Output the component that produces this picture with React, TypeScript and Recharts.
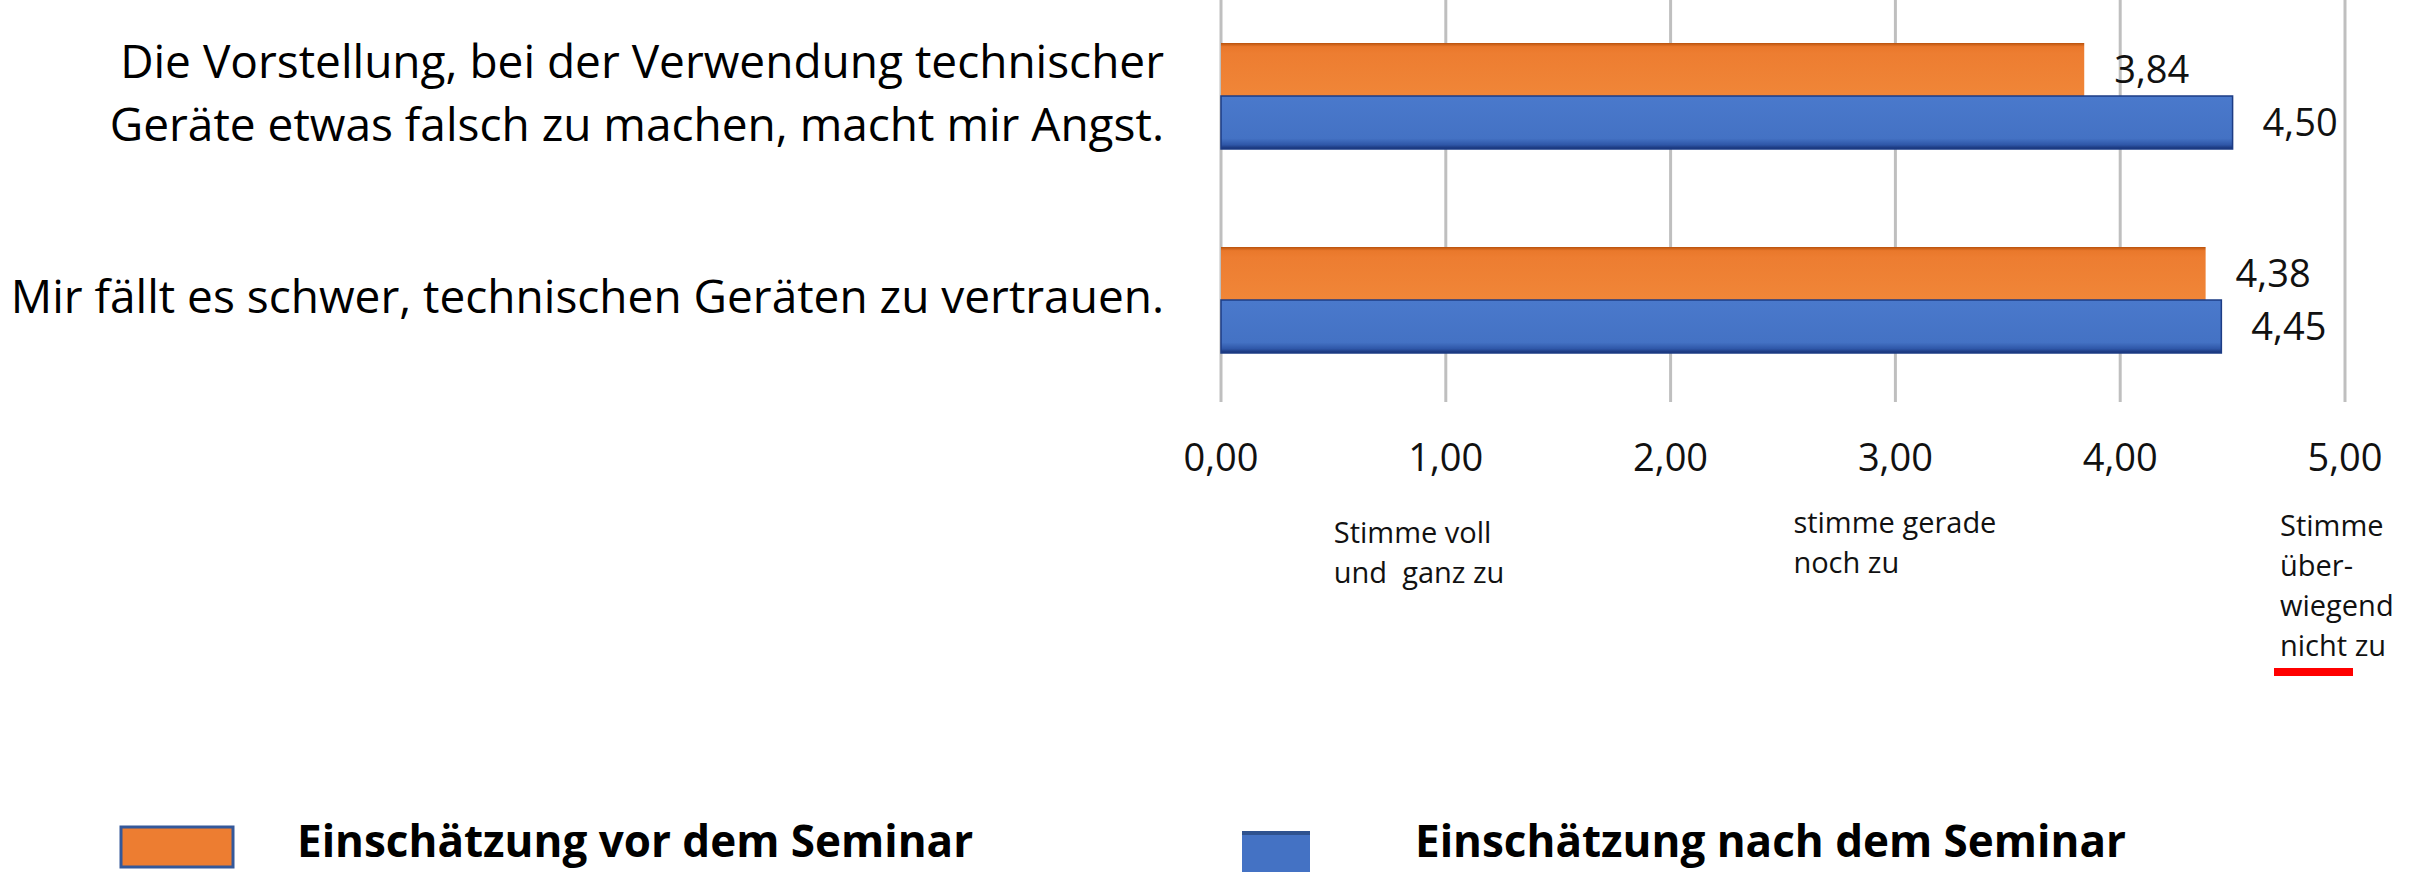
import React from 'react';
import { BarChart, Bar, XAxis, YAxis, CartesianGrid, LabelList } from 'recharts';

const categories = [
  'Die Vorstellung, bei der Verwendung technischer\nGeräte etwas falsch zu machen, macht mir Angst.',
  'Mir fällt es schwer, technischen Geräten zu vertrauen.',
];
const vorSeminar = [3.84, 4.38];
const nachSeminar = [4.5, 4.45];
const xTicks = [0, 1, 2, 3, 4, 5];
const scaleNotes: Record<number, string[]> = {
  1: ['Stimme voll', 'und  ganz zu'],
  3: ['stimme gerade', 'noch zu'],
  5: ['Stimme', 'über-', 'wiegend', 'nicht zu'],
};
const seriesNames = ['Einschätzung vor dem Seminar', 'Einschätzung nach dem Seminar'];

const data = categories.map((name, i) => ({
  name,
  vor: vorSeminar[i],
  nach: nachSeminar[i],
}));

const FONT = "'Open Sans', sans-serif";
const ORANGE = '#ED7D31';
const BLUE = '#4472C4';

const fmt = (v: number) => Number(v).toFixed(2).replace('.', ',');

// where the small scale notes sit, relative to their tick
const noteLayout: Record<number, { dx: number; first: number }> = {
  1: { dx: -112, first: 141 },
  3: { dx: -102, first: 131 },
  5: { dx: -65, first: 134 },
};

const CategoryTick = ({ x, y, payload }: any) => {
  const lines = String(payload.value).split('\n');
  const lh = 63;
  const start = y - 3 - ((lines.length - 1) * lh) / 2;
  return (
    <text textAnchor="end" fontSize={46} fontFamily={FONT} fill="#000">
      {lines.map((l, i) => (
        <tspan key={i} x={x - 57} y={start + i * lh + 16}>
          {l}
        </tspan>
      ))}
    </text>
  );
};

const ValueTick = ({ x, y, payload }: any) => {
  const v = payload.value as number;
  const notes = scaleNotes[v];
  const lay = noteLayout[v];
  return (
    <g>
      <text x={x} y={y + 69} textAnchor="middle" fontSize={38} fontFamily={FONT} fill="#111">
        {fmt(v)}
      </text>
      {notes && (
        <text fontSize={29} fontFamily={FONT} fill="#111" style={{ whiteSpace: 'pre' }}>
          {notes.map((l, i) => (
            <tspan key={i} x={x + lay.dx} y={y + lay.first + i * 40}>
              {l}
            </tspan>
          ))}
        </text>
      )}
      {v === 5 && <rect x={x - 71} y={y + 266} width={79} height={8} fill="#FF0000" />}
    </g>
  );
};

const LegendRow = () => (
  <svg width={2418} height={872} style={{ position: 'absolute', left: 0, top: 0, pointerEvents: 'none' }}>
    <rect x={121} y={827} width={112} height={40} fill={ORANGE} stroke="#34589A" strokeWidth={3} />
    <text x={297} y={857} fontSize={44} fontWeight={700} fontFamily={FONT} fill="#000">
      {seriesNames[0]}
    </text>
    <rect x={1242} y={831} width={68} height={42} fill={BLUE} />
    <rect x={1242} y={831} width={68} height={4} fill="#2F528F" />
    <text x={1415} y={857} fontSize={44} fontWeight={700} fontFamily={FONT} fill="#000">
      {seriesNames[1]}
    </text>
  </svg>
);

export default function App() {
  return (
    <div
      style={{
        position: 'absolute',
        left: 0,
        top: 0,
        width: 2418,
        height: 872,
        overflow: 'hidden',
        background: '#fff',
      }}
    >
      <div style={{ position: 'absolute', left: 0, top: -6 }}>
        <BarChart
          width={2418}
          height={878}
          data={data}
          layout="vertical"
          margin={{ top: 0, right: 73, bottom: 0, left: 0 }}
          barGap={0}
        >
          <defs>
            <linearGradient id="gOrange" x1="0" y1="0" x2="0" y2="1">
              <stop offset="0" stopColor="#B9520C" />
              <stop offset="0.07" stopColor="#E9782B" />
              <stop offset="0.2" stopColor={ORANGE} />
              <stop offset="1" stopColor="#F08638" />
            </linearGradient>
            <linearGradient id="gBlue" x1="0" y1="0" x2="0" y2="1">
              <stop offset="0" stopColor="#4A79CC" />
              <stop offset="0.8" stopColor={BLUE} />
              <stop offset="0.92" stopColor="#2F57A8" />
              <stop offset="1" stopColor="#152F72" />
            </linearGradient>
          </defs>
          <CartesianGrid horizontal={false} stroke="#BFBFBF" strokeWidth={3} />
          <XAxis
            type="number"
            domain={[0, 5]}
            ticks={xTicks}
            axisLine={false}
            tickLine={false}
            tickSize={0}
            tickMargin={0}
            height={470}
            interval={0}
            tick={<ValueTick />}
          />
          <YAxis
            type="category"
            dataKey="name"
            width={1221}
            axisLine={false}
            tickLine={false}
            tickSize={0}
            tickMargin={0}
            interval={0}
            tick={<CategoryTick />}
          />
          <Bar dataKey="vor" name={seriesNames[0]} fill="url(#gOrange)" barSize={53} isAnimationActive={false}>
            <LabelList
              dataKey="vor"
              position="right"
              offset={30}
              formatter={(v: any) => fmt(v)}
              style={{ fontSize: 38, fontFamily: FONT, fill: '#111' }}
            />
          </Bar>
          <Bar
            dataKey="nach"
            name={seriesNames[1]}
            fill="url(#gBlue)"
            stroke="#1D3C85"
            strokeWidth={1.5}
            barSize={53}
            isAnimationActive={false}
          >
            <LabelList
              dataKey="nach"
              position="right"
              offset={30}
              formatter={(v: any) => fmt(v)}
              style={{ fontSize: 38, fontFamily: FONT, fill: '#111' }}
            />
          </Bar>
        </BarChart>
      </div>
      <LegendRow />
    </div>
  );
}
